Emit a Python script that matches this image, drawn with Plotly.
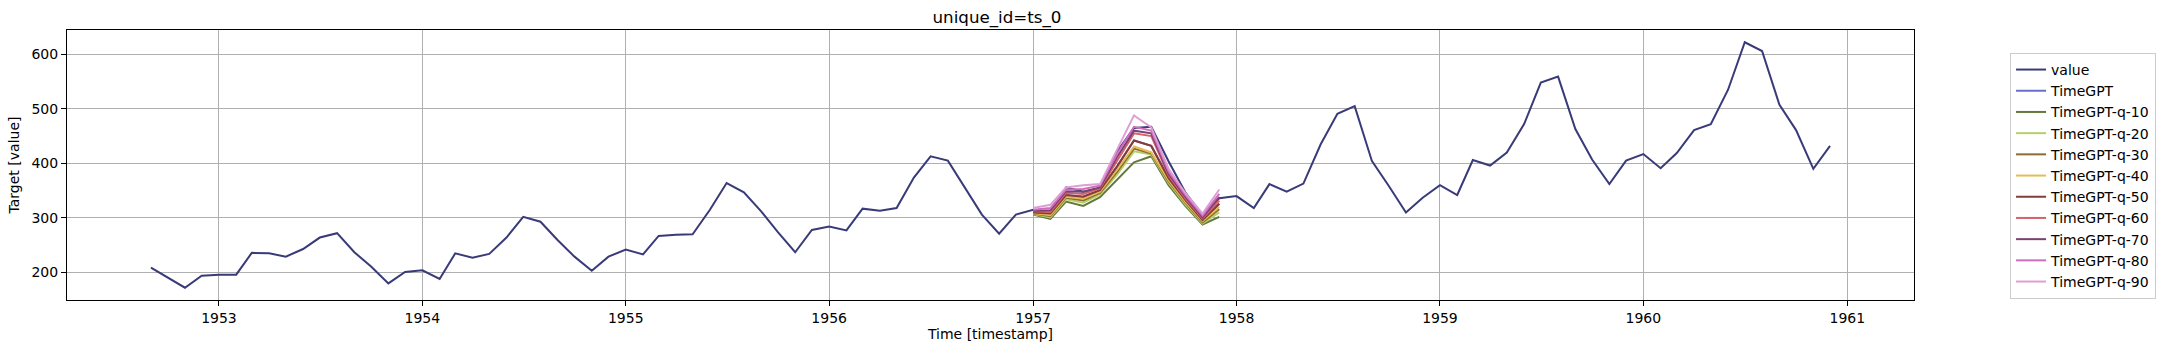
import pandas as pd
import plotly.graph_objects as go

# ---- data ----
hist_start = "1952-09-01"
hist_values = [209, 191, 172, 194,
               196, 196, 236, 235, 229, 243, 264, 272, 237, 211, 180, 201,
               204, 188, 235, 227, 234, 264, 302, 293, 259, 229, 203, 229,
               242, 233, 267, 269, 270, 315, 364, 347, 312, 274, 237, 278,
               284, 277, 317, 313, 318, 374, 413, 405, 355, 306, 271, 306,
               315, 301, 356, 348, 355, 422, 465, 467, 404, 347, 305, 336,
               340, 318, 362, 348, 363, 435, 491, 505, 404, 359, 310, 337,
               360, 342, 406, 396, 420, 472, 548, 559, 463, 407, 362, 405,
               417, 391, 419, 461, 472, 535, 622, 606, 508, 461, 390, 432]

fc_start = "1957-01-01"
q10 = [306, 298, 330, 322, 338, 370, 402, 413, 360, 322, 288, 302]
q20 = [307, 301, 334, 328, 343, 380, 422, 416, 364, 325, 290, 310]
q30 = [308, 303, 337, 332, 346, 385, 427, 418, 367, 328, 292, 316]
q40 = [309, 305, 339, 335, 348, 389, 431, 420, 369, 330, 294, 320]
q50 = [310, 308, 342, 339, 351, 395, 442, 432, 373, 333, 296, 326]
q60 = [312, 311, 346, 344, 354, 405, 455, 450, 378, 336, 299, 332]
q70 = [313, 314, 349, 348, 356, 412, 460, 455, 381, 339, 301, 338]
q80 = [315, 318, 352, 353, 359, 418, 467, 460, 385, 342, 304, 344]
q90 = [318, 324, 356, 360, 362, 427, 488, 466, 390, 346, 308, 352]
timegpt = list(q50)

series_names = ["value", "TimeGPT", "TimeGPT-q-10", "TimeGPT-q-20", "TimeGPT-q-30",
                "TimeGPT-q-40", "TimeGPT-q-50", "TimeGPT-q-60", "TimeGPT-q-70",
                "TimeGPT-q-80", "TimeGPT-q-90"]
colors = ["#393b79", "#6b6ecf", "#637939", "#b5cf6b", "#8c6d31", "#e7ba52",
          "#843c39", "#d6616b", "#7b4173", "#ce6dbd", "#de9ed6"]

hist_dates = pd.date_range(hist_start, periods=len(hist_values), freq="MS")
fc_dates = pd.date_range(fc_start, periods=len(q10), freq="MS")

fig = go.Figure()
fig.add_trace(go.Scatter(x=hist_dates, y=hist_values, mode="lines", name=series_names[0],
                         line=dict(color=colors[0], width=2)))
fc_series = [timegpt, q10, q20, q30, q40, q50, q60, q70, q80, q90]
for i, s in enumerate(fc_series):
    fig.add_trace(go.Scatter(x=fc_dates, y=s, mode="lines", name=series_names[i + 1],
                             line=dict(color=colors[i + 1], width=2)))

# matplotlib-like 5% margins
xmin, xmax = hist_dates.min(), hist_dates.max()
span = xmax - xmin
xr = [xmin - 0.05 * span, xmax + 0.05 * span]
ymin, ymax = min(hist_values), max(hist_values)
yr = [ymin - 0.05 * (ymax - ymin), ymax + 0.05 * (ymax - ymin)]

font = dict(family="DejaVu Sans", size=14, color="black")
fig.update_layout(
    width=2168, height=353,
    margin=dict(l=67, r=241, t=30, b=53),
    paper_bgcolor="white", plot_bgcolor="white",
    font=font,
    title=dict(text="unique_id=ts_0", x=(67 + 1927) / 2 / 2168, xanchor="center",
               y=1 - 17 / 353, yanchor="middle",
               font=dict(family="DejaVu Sans", size=16.7, color="black")),
    legend=dict(x=1.052, y=0.915, xanchor="left", yanchor="top",
                bordercolor="#cccccc", borderwidth=1, bgcolor="white",
                font=dict(family="DejaVu Sans", size=14, color="black")),
    showlegend=True,
)
fig.update_xaxes(type="date", range=xr, tick0="1953-01-01", dtick="M12", tickformat="%Y",
                 showgrid=True, gridcolor="#b0b0b0", gridwidth=1,
                 showline=True, linecolor="black", linewidth=1, mirror=True,
                 ticks="outside", ticklen=5, tickcolor="black",
                 tickfont=dict(family="DejaVu Sans", size=14, color="black"),
                 title=dict(text="Time [timestamp]", standoff=4,
                            font=dict(family="DejaVu Sans", size=14, color="black")),
                 zeroline=False)
fig.update_yaxes(range=yr, dtick=100, tick0=0,
                 showgrid=True, gridcolor="#b0b0b0", gridwidth=1,
                 showline=True, linecolor="black", linewidth=1, mirror=True,
                 ticks="outside", ticklen=5, tickcolor="black",
                 tickfont=dict(family="DejaVu Sans", size=14, color="black"),
                 title=dict(text="Target [value]", standoff=8,
                            font=dict(family="DejaVu Sans", size=14, color="black")),
                 zeroline=False)

fig.write_html("out.html")
